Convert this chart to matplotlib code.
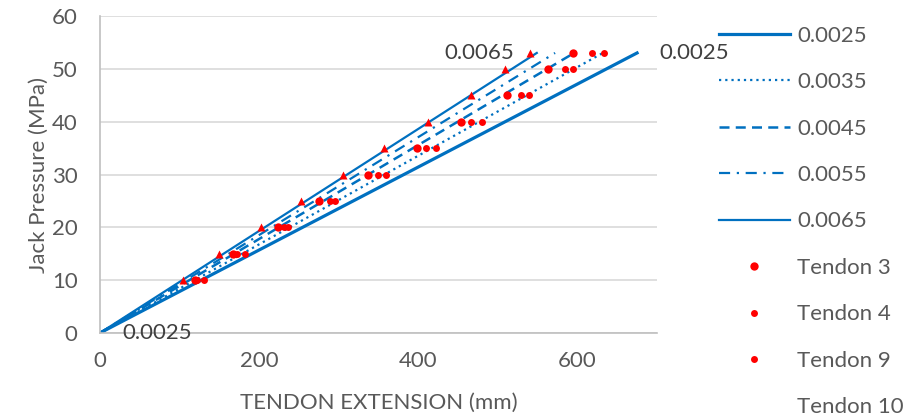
import matplotlib.pyplot as plt

plt.rcParams['font.family'] = ['Lato', 'DejaVu Sans']

# model lines: (0,0) to end point at 53 MPa, one per wobble coefficient
coefs = ['0.0025', '0.0035', '0.0045', '0.0055', '0.0065']
line_ext = [[0, 675], [0, 632], [0, 596], [0, 572], [0, 549]]
line_p = [0, 53]

# measured points
pressure = [10, 15, 20, 25, 30, 35, 40, 45, 50, 53]
tendon3 = [119, 167, 224, 276, 337, 398, 454, 511, 563, 594]
tendon4 = [122, 173, 232, 289, 349, 410, 466, 529, 585, 619]
tendon9 = [131, 183, 236, 296, 359, 422, 480, 539, 595, 633]
tendon10 = [104, 150, 202, 253, 305, 357, 412, 466, 509, 541]

blue = '#0070C0'
grey = '#595959'
fs = 16

fig = plt.figure(figsize=(9.24, 4.2), dpi=100)
ax = fig.add_axes([0.108, 0.207, 0.603, 0.755])

styles = [
    dict(ls='-', lw=2.3),
    dict(ls=(0, (1, 1.8)), lw=1.6),
    dict(ls=(0, (4, 2.5)), lw=1.8),
    dict(ls=(0, (5, 3, 1, 3)), lw=1.6),
    dict(ls='-', lw=1.6),
]
handles = []
for c, ext, st in zip(coefs, line_ext, styles):
    h, = ax.plot(ext, line_p, color=blue, label=c, **st)
    handles.append(h)

h3, = ax.plot(tendon3, pressure, 'o', color='red', ms=6, mec='none', label='Tendon 3')
h4, = ax.plot(tendon4, pressure, 'o', color='red', ms=5, mec='none', label='Tendon 4')
h9, = ax.plot(tendon9, pressure, 'o', color='red', ms=5, mec='none', label='Tendon 9')
h10, = ax.plot(tendon10, pressure, '^', color='red', ms=5.5, mec='none', label='Tendon 10')
handles += [h3, h4, h9, h10]

# data labels
ax.annotate('0.0065', (line_ext[4][1], line_p[1]), xytext=(-16, 0),
            textcoords='offset points', ha='right', va='center', fontsize=fs, color='#404040')
ax.annotate('0.0025', (line_ext[0][1], line_p[1]), xytext=(16, 0),
            textcoords='offset points', ha='left', va='center', fontsize=fs, color='#404040',
            annotation_clip=False)
ax.annotate('0.0025', (line_ext[0][0], line_p[0]), xytext=(16, 0),
            textcoords='offset points', ha='left', va='center', fontsize=fs, color='#404040')

ax.set_xlim(0, 700)
ax.set_ylim(0, 60)
ax.set_xticks([0, 200, 400, 600])
ax.set_yticks(range(0, 61, 10))
ax.tick_params(length=0, labelsize=fs, labelcolor=grey)
ax.tick_params(axis='x', pad=13)
ax.tick_params(axis='y', pad=16)
ax.grid(axis='y', color='#d9d9d9', lw=1.2)
ax.set_axisbelow(True)
for s in ['top', 'right']:
    ax.spines[s].set_visible(False)
for s in ['left', 'bottom']:
    ax.spines[s].set_color('#bfbfbf')
    ax.spines[s].set_linewidth(1.2)

ax.set_xlabel('TENDON EXTENSION (mm)', fontsize=fs, color=grey, labelpad=16)
ax.set_ylabel('Jack Pressure (MPa)', fontsize=fs, color=grey, labelpad=2)

leg = fig.legend(handles=handles, loc='upper left', bbox_to_anchor=(0.768, 0.96),
                 frameon=False, fontsize=fs, labelcolor=grey, handlelength=3.2,
                 handletextpad=0.35, labelspacing=1.19, borderaxespad=0)
leg.legend_handles[-1].set_visible(False)

fig.savefig('out.png', dpi=100)
